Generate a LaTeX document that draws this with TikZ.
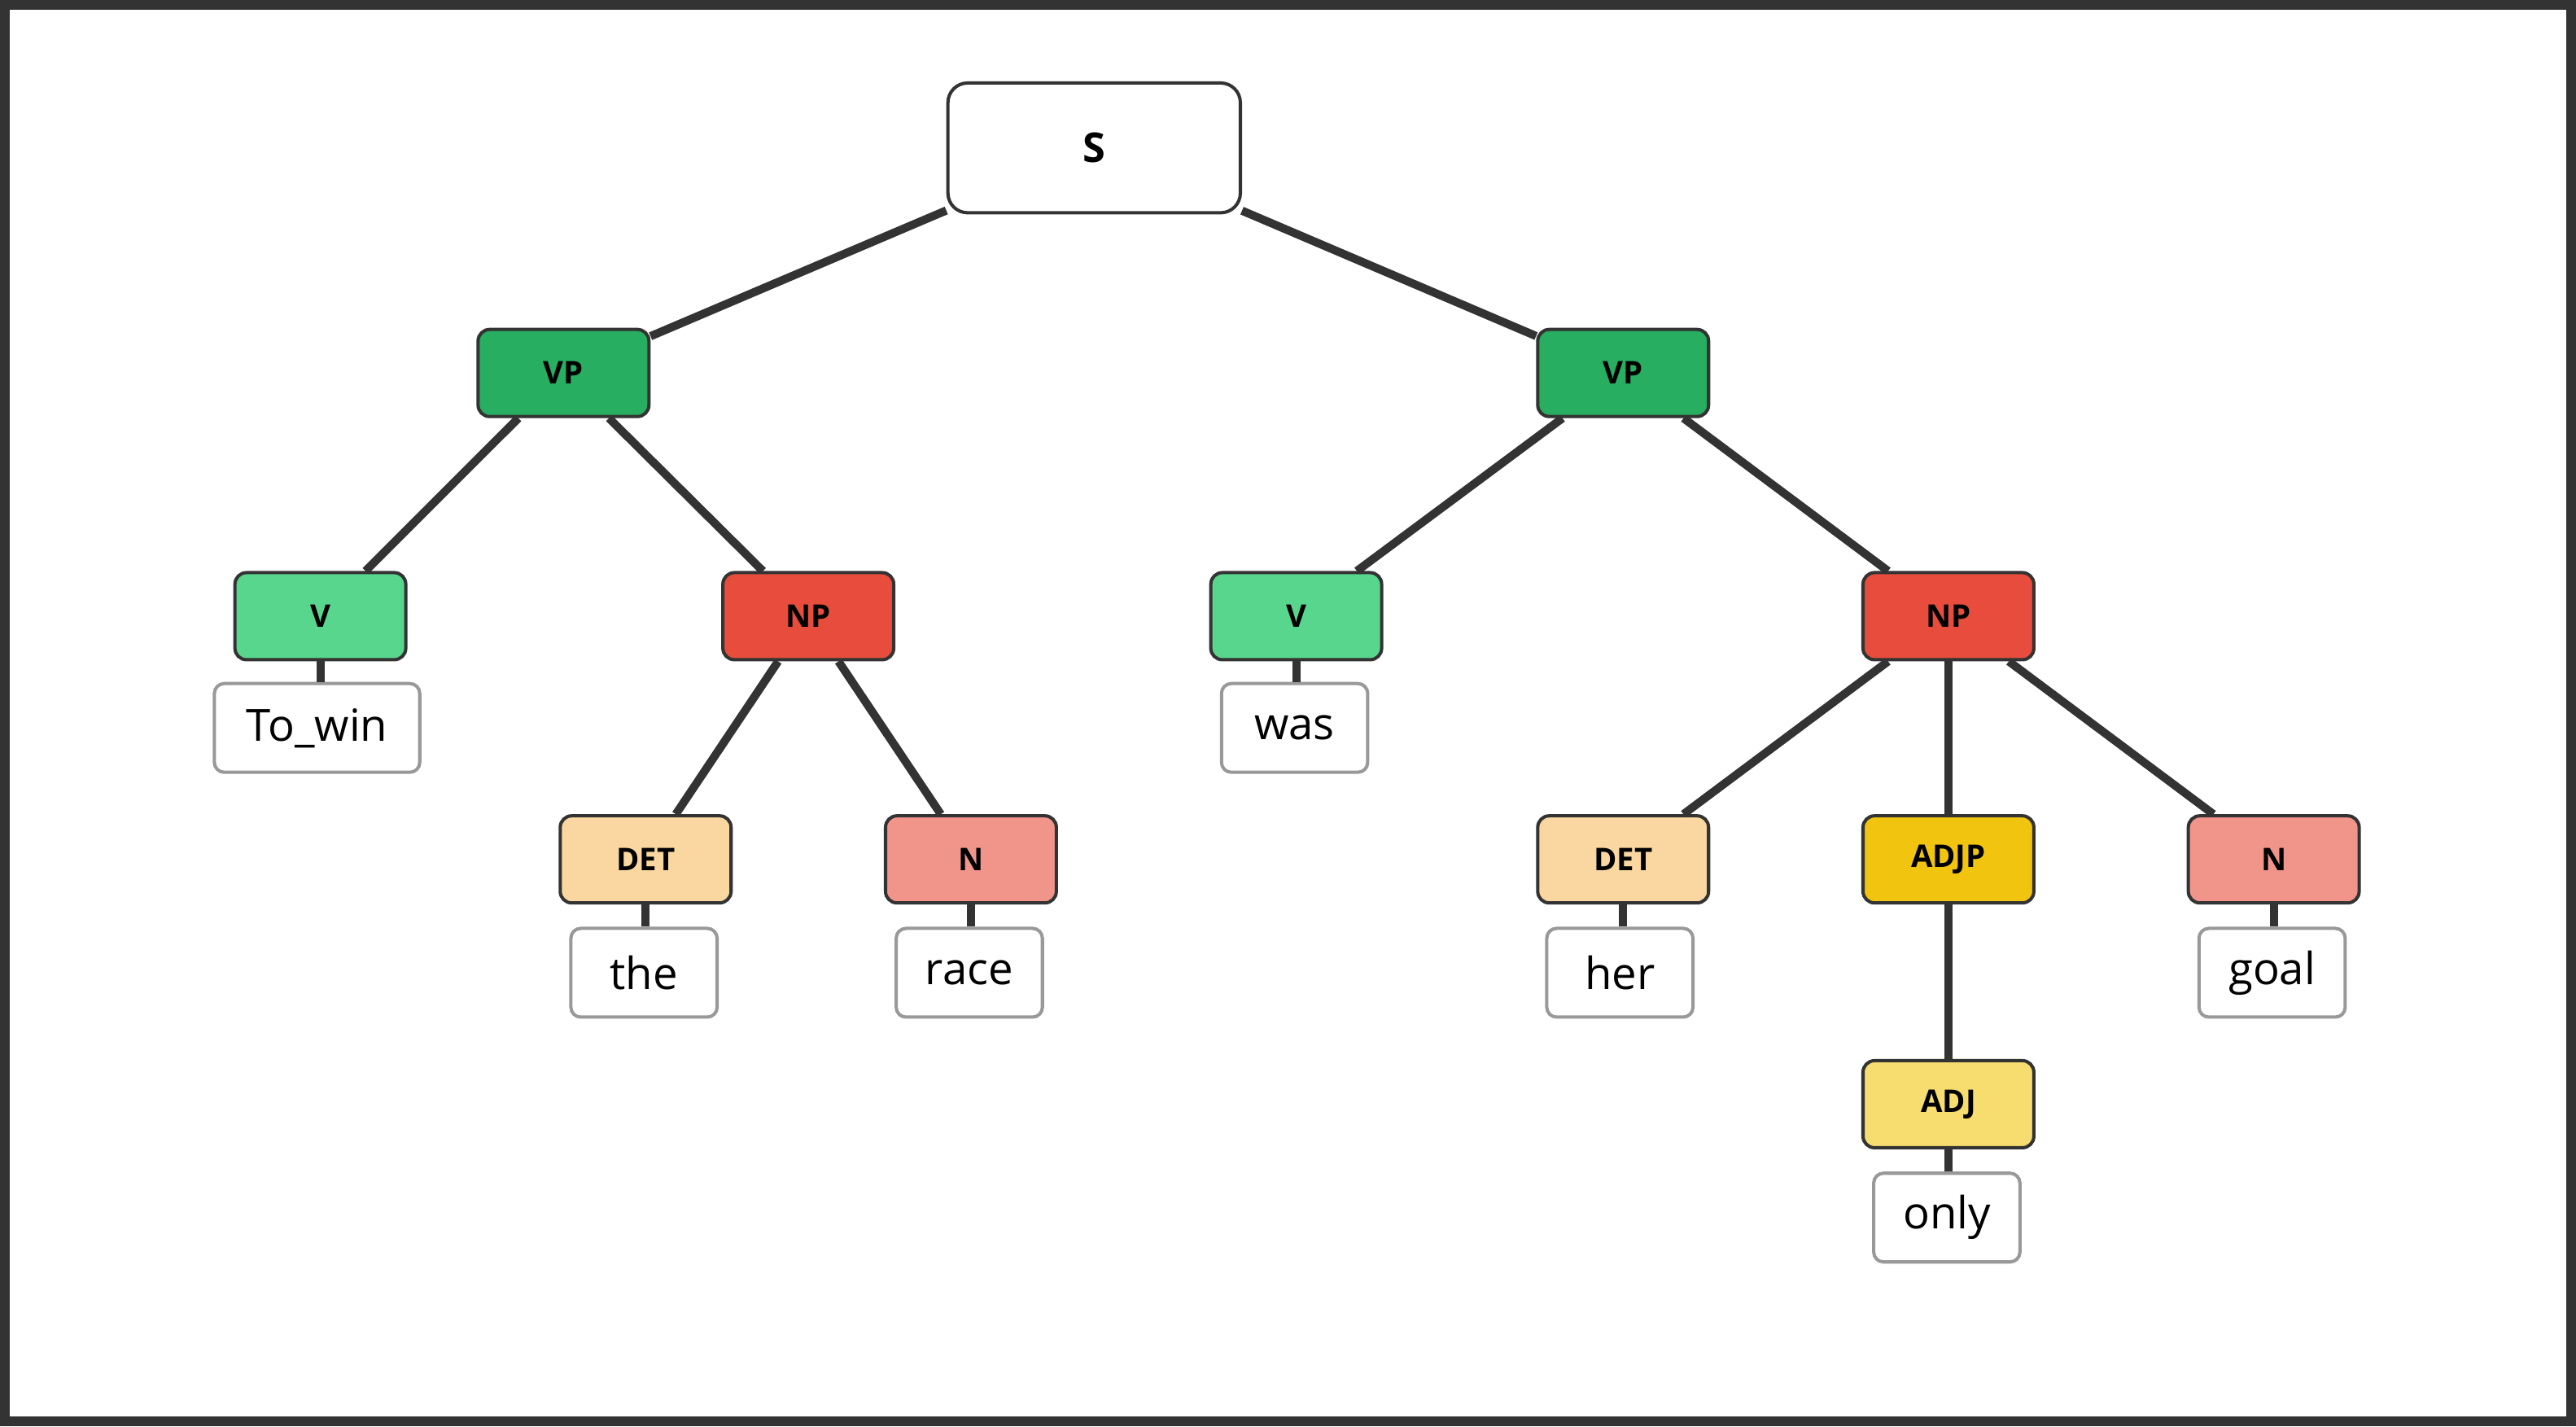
\documentclass[tikz,border=0pt]{standalone}
\usepackage{fontspec}
\setmainfont{Open Sans}
\begin{document}
\begin{tikzpicture}[x=1pt,y=-1pt,
 box/.style={draw=black!80,line width=2pt,rounded corners=7pt,minimum width=104pt,minimum height=53pt,inner sep=0pt,font=\fontsize{19}{22}\selectfont\bfseries},
 word/.style={draw=black!40,fill=white,line width=2pt,rounded corners=6pt,minimum width=89pt,minimum height=54pt,inner sep=0pt,font=\fontsize{27}{30}\selectfont},
 e/.style={draw=black!80,line width=5pt}]
\definecolor{vp}{HTML}{27AE60}\definecolor{vv}{HTML}{58D68D}\definecolor{np}{HTML}{E74C3C}
\definecolor{det}{HTML}{FAD7A0}\definecolor{nn}{HTML}{F1948A}\definecolor{adjp}{HTML}{F1C40F}\definecolor{adj}{HTML}{F7DC6F}
\draw[black!80,line width=6pt,fill=white] (3,3) rectangle (1565,865);
\node[box,fill=white,minimum width=178pt,minimum height=79pt,rounded corners=12pt,font=\fontsize{25}{28}\selectfont\bfseries] (S) at (666,90) {S};
\node[box,fill=vp] (vp1) at (343,227) {VP};
\node[box,fill=vp] (vp2) at (988,227) {VP};
\node[box,fill=vv] (v1) at (195,375) {V};
\node[box,fill=np] (np1) at (492,375) {NP};
\node[box,fill=vv] (v2) at (789,375) {V};
\node[box,fill=np] (np2) at (1186,375) {NP};
\node[box,fill=det] (det1) at (393,523) {DET};
\node[box,fill=nn] (n1) at (591,523) {N};
\node[box,fill=det] (det2) at (988,523) {DET};
\node[box,fill=adjp] (adjp) at (1186,523) {ADJP};
\node[box,fill=nn] (n2) at (1384,523) {N};
\node[box,fill=adj] (adj) at (1186,672) {ADJ};
\node[word,minimum width=125pt] (w1) at (193,443) {To\_win};
\node[word] (w2) at (392,592) {the};
\node[word] (w3) at (590,592) {race};
\node[word] (w4) at (788,443) {was};
\node[word] (w5) at (986,592) {her};
\node[word] (w6) at (1383,592) {goal};
\node[word] (w7) at (1185,741) {only};
\draw[e] (S) -- (vp1); \draw[e] (S) -- (vp2);
\draw[e] (vp1) -- (v1); \draw[e] (vp1) -- (np1);
\draw[e] (vp2) -- (v2); \draw[e] (vp2) -- (np2);
\draw[e] (np1) -- (det1); \draw[e] (np1) -- (n1);
\draw[e] (np2) -- (det2); \draw[e] (np2) -- (adjp); \draw[e] (np2) -- (n2);
\draw[e] (adjp) -- (adj);
\draw[e] (v1.south) -- (w1.north -| v1.south);
\draw[e] (det1.south) -- (w2.north -| det1.south);
\draw[e] (n1.south) -- (w3.north -| n1.south);
\draw[e] (v2.south) -- (w4.north -| v2.south);
\draw[e] (det2.south) -- (w5.north -| det2.south);
\draw[e] (n2.south) -- (w6.north -| n2.south);
\draw[e] (adj.south) -- (w7.north -| adj.south);
\end{tikzpicture}
\end{document}
